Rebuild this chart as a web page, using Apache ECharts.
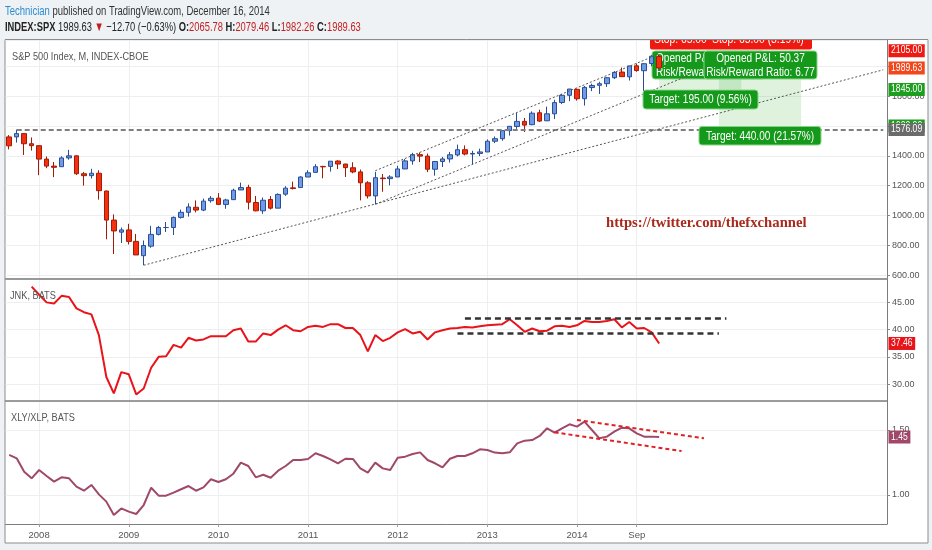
<!DOCTYPE html>
<html>
<head>
<meta charset="utf-8">
<script src="https://cdn.jsdelivr.net/npm/echarts@6/dist/echarts.min.js"></script>
<style>
  html, body { margin: 0; padding: 0; background: #eff2f5; }
  #main { width: 932px; height: 550px; }
</style>
</head>
<body>
<div id="main"></div>
<script>
// monthly categories, Sep 2007 onwards (the right part stays empty like the TV chart)
const startYear = 2007, startMonth = 9, monthCount = 118;
const months = [];
for (let i = 0; i < monthCount; i++) {
    let m = startMonth - 1 + i;
    months.push((startYear + Math.floor(m / 12)) + "-" + String(m % 12 + 1).padStart(2, "0"));
}
const xTickLabels = {
    "2008-01": "2008", "2009-01": "2009", "2010-01": "2010", "2011-01": "2011",
    "2012-01": "2012", "2013-01": "2013", "2014-01": "2014", "2014-09": "Sep"
};

// S&P 500 monthly candles
const spxOpen = [1527, 1527, 1549, 1481, 1468, 1378, 1331, 1327, 1386, 1400,
    1280, 1267, 1283, 1164, 969, 888, 903, 826, 730, 794,
    873, 919, 919, 987, 1021, 1055, 1036, 1099, 1116, 1074,
    1106, 1171, 1188, 1087, 1031, 1107, 1049, 1143, 1185, 1187,
    1258, 1289, 1329, 1329, 1365, 1345, 1320, 1292, 1219, 1131,
    1251, 1247, 1258, 1312, 1366, 1408, 1398, 1310, 1362, 1379,
    1406, 1441, 1412, 1416, 1426, 1498, 1515, 1569, 1597, 1631,
    1609, 1689, 1635, 1682, 1758, 1806, 1846, 1783, 1858, 1873,
    1884, 1924, 1962, 1930, 2004, 1971, 2019, 2065.78];
const spxClose = [1467, 1549, 1481, 1468, 1378, 1331, 1323, 1386, 1400, 1280,
    1267, 1283, 1166, 969, 896, 903, 826, 735, 798, 873,
    919, 919, 987, 1021, 1057, 1036, 1096, 1115, 1074, 1104,
    1169, 1187, 1089, 1031, 1102, 1049, 1141, 1183, 1181, 1258,
    1286, 1327, 1326, 1364, 1345, 1321, 1292, 1219, 1131, 1253,
    1247, 1258, 1312, 1366, 1408, 1398, 1310, 1362, 1379, 1407,
    1441, 1412, 1416, 1426, 1498, 1515, 1569, 1598, 1631, 1606,
    1686, 1633, 1682, 1757, 1806, 1848, 1783, 1859, 1872, 1884,
    1924, 1960, 1931, 2003, 1972, 2018, 2068, 1989.63];
const spxLow = [1443, 1489, 1406, 1435, 1270, 1317, 1257, 1325, 1374, 1272,
    1200, 1248, 1106, 840, 741, 815, 805, 735, 667, 783,
    866, 889, 869, 979, 992, 1020, 1029, 1086, 1071, 1045,
    1106, 1171, 1040, 1028, 1011, 1040, 1049, 1131, 1174, 1187,
    1257, 1289, 1249, 1294, 1311, 1258, 1283, 1101, 1114, 1075,
    1159, 1202, 1258, 1312, 1341, 1358, 1291, 1267, 1325, 1355,
    1396, 1403, 1343, 1398, 1426, 1485, 1501, 1536, 1581, 1560,
    1605, 1627, 1633, 1647, 1747, 1767, 1770, 1737, 1834, 1815,
    1862, 1915, 1930, 1905, 1964, 1821, 2001, 1982.26];
const spxHigh = [1539, 1576, 1553, 1523, 1471, 1396, 1359, 1397, 1440, 1404,
    1292, 1313, 1303, 1167, 1007, 919, 944, 876, 832, 930,
    930, 956, 993, 1039, 1081, 1101, 1113, 1130, 1150, 1112,
    1180, 1220, 1206, 1131, 1120, 1130, 1148, 1196, 1227, 1263,
    1303, 1344, 1333, 1364, 1371, 1346, 1357, 1308, 1230, 1292,
    1278, 1270, 1333, 1378, 1420, 1422, 1415, 1363, 1392, 1426,
    1475, 1470, 1434, 1448, 1510, 1530, 1570, 1598, 1687, 1654,
    1698, 1709, 1730, 1776, 1814, 1849, 1851, 1868, 1884, 1897,
    1924, 1968, 1992, 2005, 2019, 2019, 2075, 2079.46];

// JNK monthly close (starts Dec 2007)
const jnkClose = [null, null, null, 47.9, 46.4, 45.0, 44.8, 46.2, 46.0, 43.9,
    43.2, 42.8, 39.0, 31.3, 28.3, 32.2, 31.8, 28.1, 29.2, 33.0,
    35.0, 35.1, 37.2, 36.7, 38.5, 38.0, 38.2, 38.8, 38.8, 38.8,
    39.9, 40.2, 37.8, 37.8, 39.3, 39.0, 40.0, 40.8, 39.9, 39.7,
    40.5, 40.7, 40.5, 41.0, 41.0, 40.3, 40.3, 39.0, 36.0, 39.0,
    37.9, 38.5, 39.5, 40.1, 39.3, 39.6, 38.2, 39.5, 39.9, 40.2,
    40.3, 40.5, 40.4, 40.6, 40.8, 40.9, 41.0, 41.9, 40.8, 39.6,
    40.2, 39.7, 39.8, 40.6, 40.7, 40.5, 40.8, 41.6, 41.4, 41.4,
    41.6, 41.9, 40.4, 41.4, 40.2, 40.3, 39.5, 37.46];

// XLY/XLP ratio
const xlyXlp = [1.308, 1.282, 1.179, 1.128, 1.192, 1.146, 1.103, 1.136, 1.128, 1.064,
    1.033, 1.077, 1.005, 0.949, 0.846, 0.897, 0.872, 0.854, 0.923, 1.056,
    0.995, 0.995, 1.018, 1.044, 1.069, 1.033, 1.059, 1.121, 1.100, 1.121,
    1.164, 1.249, 1.223, 1.136, 1.156, 1.133, 1.187, 1.223, 1.269, 1.269,
    1.277, 1.321, 1.300, 1.274, 1.244, 1.279, 1.277, 1.205, 1.172, 1.249,
    1.205, 1.192, 1.287, 1.295, 1.315, 1.328, 1.269, 1.244, 1.213, 1.279,
    1.300, 1.300, 1.321, 1.351, 1.346, 1.326, 1.321, 1.328, 1.397, 1.418,
    1.423, 1.454, 1.513, 1.479, 1.513, 1.544, 1.526, 1.564, 1.500, 1.436,
    1.449, 1.487, 1.518, 1.513, 1.474, 1.449, 1.449, 1.446];

// drawings: [startIndex, startValue, endIndex, endValue]
const spxHighLevel = 1576.09;
const spxTrendLines = [[18, 666, 117, 1977], [49, 1075, 91, 1940], [49, 1300, 87, 2083]];
const jnkLevels = [[61, 42.0, 96, 42.0], [60, 39.3, 95, 39.3]];
const xlyChannel = [[76, 1.577, 93, 1.436], [73, 1.482, 90, 1.338]];
// short position targets: [fromIndex, toIndex, entry, target]
const targetZones = [[87, 98, 2040, 1845], [95, 106, 2040, 1600]];

const FONT = '"Liberation Sans", Arial, sans-serif';
const gridColor = "#eceef1";
const gridRight = 45;
const isTick = (index, value) => value in xTickLabels;

function xAxisFor(gridIndex, showLabels) {
    return {
        type: "category",
        gridIndex: gridIndex,
        data: months,
        boundaryGap: true,
        axisLine: { show: true, lineStyle: { color: "#7d7d7d", width: showLabels ? 1 : 1.5 } },
        axisTick: { show: showLabels, alignWithLabel: true, interval: isTick, length: 3, lineStyle: { color: "#999" } },
        axisLabel: {
            show: showLabels, interval: isTick, formatter: (v) => xTickLabels[v],
            color: "#555", fontSize: 9.5, fontFamily: FONT, margin: 6
        },
        splitLine: { show: true, alignWithLabel: true, interval: isTick, lineStyle: { color: gridColor } }
    };
}

function yAxisFor(gridIndex, min, max, splitNumber) {
    return {
        type: "value",
        gridIndex: gridIndex,
        position: "right",
        min: min,
        max: max,
        splitNumber: splitNumber,
        axisLine: { show: true, lineStyle: { color: "#7d7d7d" } },
        axisTick: { show: true, length: 3, lineStyle: { color: "#888" } },
        axisLabel: {
            color: "#555", fontSize: 9, fontFamily: FONT, margin: 5,
            formatter: (v) => v.toFixed(2), showMinLabel: false, showMaxLabel: false
        },
        splitLine: { show: true, lineStyle: { color: gridColor } }
    };
}

function drawingLines(list, style) {
    return list.map((l) => [{ coord: [l[0], l[1]], lineStyle: style }, { coord: [l[2], l[3]] }]);
}

let myChart = echarts.init(document.getElementById("main"));

let candles = spxOpen.map((o, i) => [o, spxClose[i], spxLow[i], spxHigh[i]]);

let option = {
    animation: false,
    textStyle: { fontFamily: FONT },
    grid: [
        { left: 5.5, right: gridRight, top: 40, height: 238.5 },
        { left: 5.5, right: gridRight, top: 279.5, height: 121.5 },
        { left: 5.5, right: gridRight, top: 401, height: 123 }
    ],
    xAxis: [xAxisFor(0, false), xAxisFor(1, false), xAxisFor(2, true)],
    yAxis: [yAxisFor(0, 577, 2177, 8), yAxisFor(1, 26.9, 49.2, 4), yAxisFor(2, 0.777, 1.723, 2)],
    series: [
        {
            type: "candlestick",
            xAxisIndex: 0,
            yAxisIndex: 0,
            data: candles,
            barWidth: 5,
            itemStyle: {
                color: "#6d9be6",
                color0: "#f5300c",
                borderColor: "#2a4d96",
                borderColor0: "#a01c08",
                borderWidth: 1
            },
            markLine: {
                silent: true,
                symbol: ["none", "none"],
                label: { show: false },
                data: [].concat(
                    drawingLines([[1, spxHighLevel, 117, spxHighLevel]], { color: "#808080", width: 2, type: [5, 3] }),
                    drawingLines(spxTrendLines, { color: "#555", width: 1, type: [2, 2] })
                )
            },
            markArea: {
                silent: true,
                itemStyle: { color: "rgba(60, 180, 60, 0.17)" },
                data: targetZones.map((z) => [{ coord: [z[0], z[2]] }, { coord: [z[1], z[3]] }])
            }
        },
        {
            type: "line",
            xAxisIndex: 1,
            yAxisIndex: 1,
            data: jnkClose,
            symbol: "none",
            lineStyle: { color: "#e8141a", width: 2 },
            markLine: {
                silent: true,
                symbol: ["none", "none"],
                label: { show: false },
                data: drawingLines(jnkLevels, { color: "#333", width: 2.5, type: [6, 4] })
            }
        },
        {
            type: "line",
            xAxisIndex: 2,
            yAxisIndex: 2,
            data: xlyXlp,
            symbol: "none",
            lineStyle: { color: "#a04869", width: 2 },
            markLine: {
                silent: true,
                symbol: ["none", "none"],
                label: { show: false },
                data: drawingLines(xlyChannel, { color: "#e02222", width: 2, type: [4, 3] })
            }
        }
    ]
};

myChart.setOption(option);

// annotations: frame, header, pane titles, TV drawing labels and price tags
let axisX = 932 - gridRight;
let yPix = (grid, value) => myChart.convertToPixel({ gridIndex: grid }, [0, value])[1];

// text squeezed horizontally, the TV font is a condensed face
function narrowText(x, y, text, size, fill, scale, z, extra) {
    return {
        type: "text", x: x, y: y, scaleX: scale, z: z,
        style: Object.assign({
            x: 0, y: 0, text: text, fill: fill, fontSize: size, fontFamily: FONT, verticalAlign: "middle"
        }, extra || {})
    };
}

function priceTag(grid, value, text, color) {
    return narrowText(axisX + 1.5, yPix(grid, value), text, 10, "#fff", 0.86, 30,
        { backgroundColor: color, padding: [2, 3, 1, 3] });
}

function greenBox(x, y, w, h, lines, align, z) {
    let items = [{
        type: "rect", z: z,
        shape: { x: x, y: y, width: w, height: h, r: 3 },
        style: { fill: "#14991a", stroke: "#86d486", lineWidth: 1 }
    }];
    lines.forEach((t, i) => {
        items.push(narrowText(align === "center" ? x + w / 2 : x + 4,
            y + (h / lines.length) * (i + 0.5) + 0.5, t, 12, "#fff", 0.84, z + 1, { align: align }));
    });
    return items;
}

let graphics = [
    { type: "rect", z: -10, shape: { x: 5, y: 39.5, width: 923, height: 503.5 }, style: { fill: "#fff", stroke: "#8c8c8c", lineWidth: 1 } },
    // stop labels peeking from under the top edge
    { type: "rect", z: 20, shape: { x: 650, y: 28, width: 162, height: 21.5, r: 2 }, style: { fill: "#ee1a12" } },
    narrowText(654, 40, "Stop: 65.00", 12, "#fff", 0.86, 21),
    narrowText(712, 40, "Stop: 65.00 (3.19%)", 12, "#fff", 0.86, 21),
    // header
    { type: "rect", z: 50, shape: { x: 0, y: 0, width: 932, height: 39.5 }, style: { fill: "#eff2f5" } },
    { type: "line", z: 50, shape: { x1: 5, y1: 39.5, x2: 928, y2: 39.5 }, style: { stroke: "#8c8c8c", lineWidth: 1 } },
    narrowText(5, 11, "{a|Technician} published on TradingView.com, December 16, 2014", 13, "#333", 0.73, 51, {
        rich: { a: { fill: "#2a8cd0", fontSize: 13, fontFamily: FONT } }
    }),
    narrowText(5, 27,
        "{b|INDEX:SPX} 1989.63 {r|\u25BC} \u221212.70 (\u22120.63%) {b|O:}{r|2065.78} {b|H:}{r|2079.46} {b|L:}{r|1982.26} {b|C:}{r|1989.63}",
        13, "#222", 0.72, 51, {
            rich: {
                b: { fill: "#222", fontWeight: "bold", fontSize: 13, fontFamily: FONT },
                r: { fill: "#c41f1f", fontSize: 13, fontFamily: FONT }
            }
        }),
    // pane titles
    narrowText(12, 57, "S&P 500 Index, M, INDEX-CBOE", 11.5, "#555", 0.8, 5),
    narrowText(10, 296, "JNK, BATS", 11.5, "#555", 0.8, 5),
    narrowText(11, 417.5, "XLY/XLP, BATS", 11.5, "#555", 0.8, 5),
    // watermark link
    {
        type: "text", z: 5,
        style: {
            x: 606, y: 223.5, text: "https://twitter.com/thefxchannel", fill: "#a82a1c",
            fontSize: 14.7, fontWeight: "bold", fontFamily: '"Liberation Serif", "DejaVu Serif", serif', verticalAlign: "middle"
        }
    }
].concat(
    greenBox(652, 51, 113, 28, ["Opened P&L: 50.37", "Risk/Reward Ratio: 3.00"], "left", 1),
    greenBox(704, 51, 113, 28, ["Opened P&L: 50.37", "Risk/Reward Ratio: 6.77"], "center", 20),
    greenBox(643, 90, 115, 19, ["Target: 195.00 (9.56%)"], "center", 20),
    greenBox(699, 126.5, 122, 18.5, ["Target: 440.00 (21.57%)"], "center", 20),
    [
        priceTag(0, 1600, "1600.00", "#1e9e1e"),
        priceTag(0, spxHighLevel, "1576.09", "#6b6b6b"),
        priceTag(0, 2105, "2105.00", "#ee1a12"),
        priceTag(0, 1989.63, "1989.63", "#f2471d"),
        priceTag(0, 1845, "1845.00", "#1e9e1e"),
        priceTag(1, jnkClose[jnkClose.length - 1], "37.46", "#e8141a"),
        priceTag(2, xlyXlp[xlyXlp.length - 1], xlyXlp[xlyXlp.length - 1].toFixed(2), "#a04869")
    ]
);

myChart.setOption({ graphic: graphics });
</script>
</body>
</html>
